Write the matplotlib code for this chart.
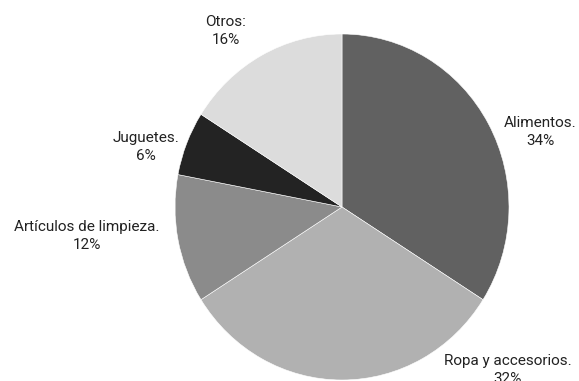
import numpy as np
import matplotlib
matplotlib.use("Agg")
import matplotlib.pyplot as plt

# datos del grafico
categorias = ["Alimentos.", "Ropa y accesorios.", "Artículos de limpieza.", "Juguetes.", "Otros:"]
porcentajes = [34, 32, 12, 6, 16]
colores = ["#616161", "#b1b1b1", "#8b8b8b", "#232323", "#dcdcdc"]

# posicion de las etiquetas (coordenadas del pie, radio = 1)
pos_etiquetas = [(1.186, 0.434), (0.994, -0.942), (-1.527, -0.168), (-1.174, 0.347), (-0.695, 1.017)]

plt.rcParams['font.family'] = ['Roboto', 'DejaVu Sans']

fig = plt.figure(figsize=(5.79, 3.81), dpi=100)
# centro (342, 207) px, radios 167 x 173 px
ax = fig.add_axes([(342 - 167) / 579, (381 - 207 - 173) / 381, 334 / 579, 346 / 381])

ax.pie(porcentajes, colors=colores, startangle=90, counterclock=False,
       wedgeprops=dict(edgecolor='white', linewidth=0.4))
ax.set_aspect('auto')
ax.set_xlim(-1, 1)
ax.set_ylim(-1, 1)
ax.axis('off')

for cat, p, (x, y) in zip(categorias, porcentajes, pos_etiquetas):
    ax.text(x, y, f"{cat}\n{p}%", ha='center', va='center', fontsize=11,
            color='#222222', linespacing=1.32, clip_on=False)

fig.savefig("out.png", dpi=100)
